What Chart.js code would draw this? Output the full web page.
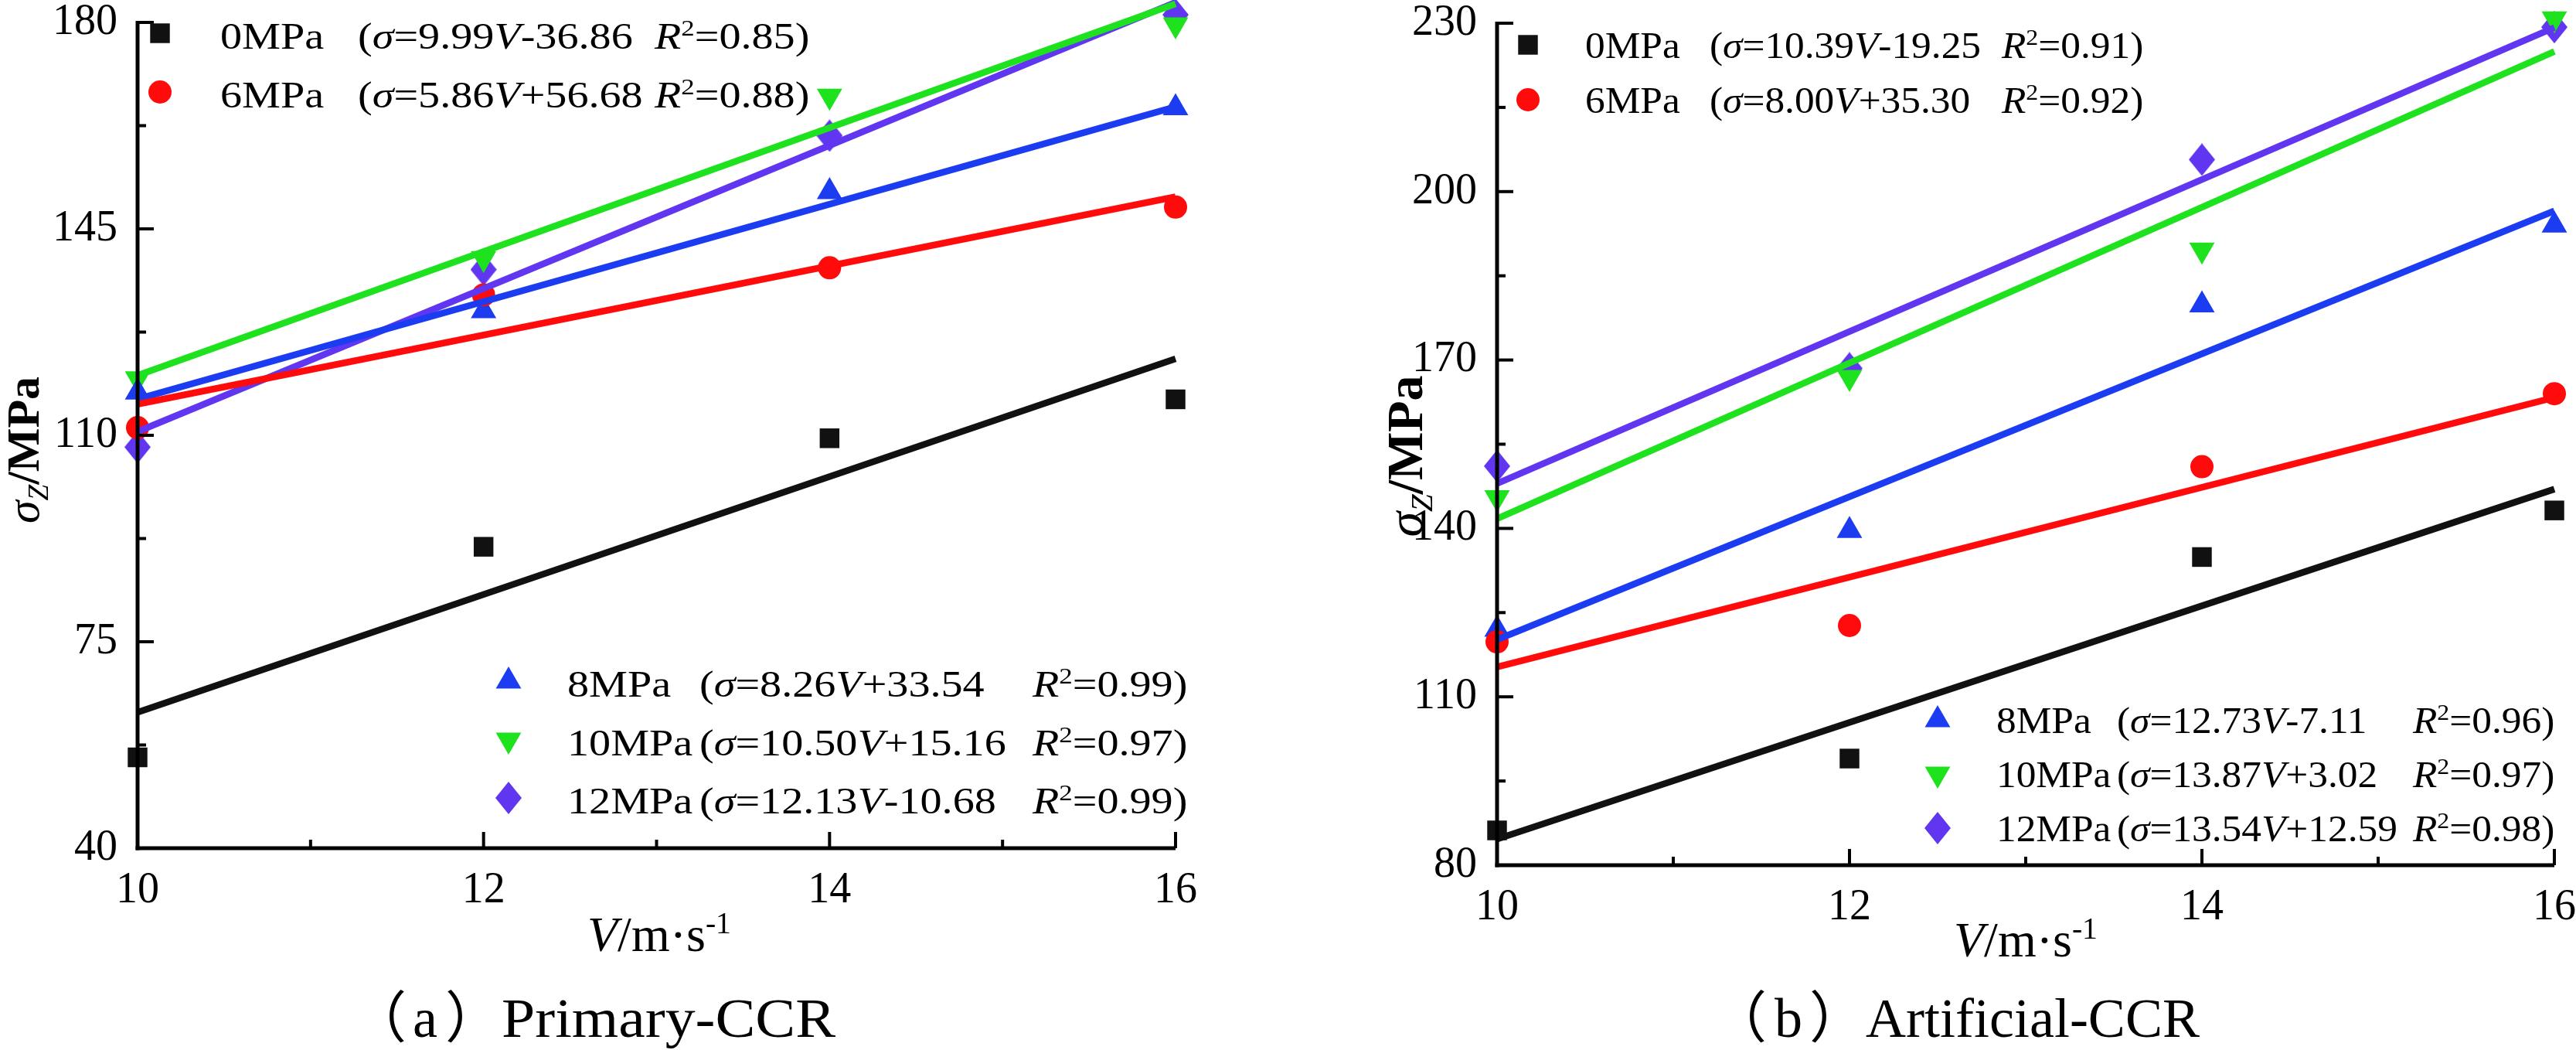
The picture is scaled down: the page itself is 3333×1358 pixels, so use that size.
<!DOCTYPE html>
<html>
<head>
<meta charset="utf-8">
<script src="https://cdn.jsdelivr.net/npm/chart.js@4.4.1/dist/chart.umd.min.js"></script>
<style>
  html, body { margin: 0; padding: 0; background: #fff; }
  body { width: 3333px; height: 1358px; position: relative; overflow: hidden; font-family: "Liberation Serif", serif; }
  .panel { position: absolute; top: 0; height: 1358px; }
</style>
</head>
<body>
<div class="panel" style="left:0;width:1700px"><canvas id="chartA" width="1700" height="1358"></canvas></div>
<div class="panel" style="left:1700px;width:1633px"><canvas id="chartB" width="1633" height="1358"></canvas></div>
<script>
// 資料
const speeds = [10, 12, 14, 16];
const pressures = ['0MPa', '6MPa', '8MPa', '10MPa', '12MPa'];
const xTicks = [10, 12, 14, 16];

// (a) Primary-CCR
const a0MPa = [55.4, 91.1, 109.5, 116.1];
const a6MPa = [111.3, 133.8, 138.4, 148.7];
const a8MPa = [117.3, 131.1, 151.3, 165.5];
const a10MPa = [119.6, 140.0, 167.5, 179.6];
const a12MPa = [108.0, 138.1, 160.8, 181.3];
const aSlope = [9.99, 5.86, 8.26, 10.50, 12.13];
const aIntercept = [-36.86, 56.68, 33.54, 15.16, -10.68];
const aR2 = [0.85, 0.88, 0.99, 0.97, 0.99];
// 擬合線在 V=10 與 V=16 的值
const aFitStart = [63.04, 115.28, 116.14, 120.16, 110.62];
const aFitEnd = [122.98, 150.44, 165.70, 183.16, 183.40];
const aYTicks = [40, 75, 110, 145, 180];

// (b) Artificial-CCR
const b0MPa = [86.2, 99.0, 134.9, 143.2];
const b6MPa = [119.8, 122.7, 151.0, 164.0];
const b8MPa = [122.0, 139.6, 179.8, 194.0];
const b10MPa = [145.5, 166.9, 189.6, 230.8];
const b12MPa = [151.1, 168.5, 205.7, 229.3];
const bSlope = [10.39, 8.00, 12.73, 13.87, 13.54];
const bIntercept = [-19.25, 35.30, -7.11, 3.02, 12.59];
const bR2 = [0.91, 0.92, 0.96, 0.97, 0.98];
const bFitStart = [84.65, 115.30, 120.19, 141.72, 147.99];
const bFitEnd = [146.99, 163.30, 196.57, 224.94, 229.23];
const bYTicks = [80, 110, 140, 170, 200, 230];

// 顏色與點樣式
const colors = ['#111111', '#ff0b0b', '#1c3cf2', '#1ee21e', '#6036f0'];

// 菱形點 (略高於寬)
function diamondImg(color, w, h) {
  const c = document.createElement('canvas');
  c.width = w; c.height = h;
  const g = c.getContext('2d');
  g.fillStyle = color;
  g.beginPath();
  g.moveTo(w / 2, 0); g.lineTo(w, h / 2); g.lineTo(w / 2, h); g.lineTo(0, h / 2);
  g.closePath(); g.fill();
  return c;
}
const marks = [
  { style: 'rect', r: 18, rot: 0 },
  { style: 'circle', r: 15, rot: 0 },
  { style: 'triangle', r: 19, rot: 0 },
  { style: 'triangle', r: 19, rot: 180 },
  { style: diamondImg(colors[4], 34, 42), r: 18, rot: 0 }
];
const FONT = '"Liberation Serif", "Times New Roman", "DejaVu Serif", serif';
const CJK = '"Noto Sans CJK SC", sans-serif';

function segFont(s, size) {
  const sz = (s.sup || s.sub) ? size * 0.62 : size;
  return (s.it ? 'italic ' : '') + (s.b ? 'bold ' : '') + sz + 'px ' + FONT;
}
function richWidth(ctx, segs, size) {
  let w = 0;
  segs.forEach(s => { ctx.font = segFont(s, size); w += ctx.measureText(s.t).width; });
  return w;
}
function drawRich(ctx, segs, x, y, size, stretch) {
  ctx.save();
  ctx.translate(x, y);
  ctx.scale(stretch || 1, 1);
  ctx.fillStyle = '#000';
  ctx.textAlign = 'left';
  ctx.textBaseline = 'alphabetic';
  let cx = 0;
  segs.forEach(s => {
    ctx.font = segFont(s, size);
    const dy = s.sup ? -size * 0.36 : (s.sub ? size * 0.2 : 0);
    ctx.fillText(s.t, cx, dy);
    cx += ctx.measureText(s.t).width;
  });
  ctx.restore();
}
function drawMarker(ctx, i, x, y) {
  ctx.save();
  ctx.fillStyle = colors[i];
  ctx.strokeStyle = colors[i];
  const m = marks[i];
  if (Chart.helpers && Chart.helpers.drawPoint) {
    Chart.helpers.drawPoint(ctx, { pointStyle: m.style, radius: m.r, rotation: m.rot, borderWidth: 0 }, x, y);
  } else {
    ctx.beginPath(); ctx.arc(x, y, m.r, 0, Math.PI * 2); ctx.fill();
  }
  ctx.restore();
}
// 子圖標題：全形括號用 CJK 字型
function drawCaption(ctx, c) {
  ctx.save();
  ctx.fillStyle = '#000';
  ctx.textAlign = 'left';
  ctx.textBaseline = 'alphabetic';
  const put = (t, font, left) => {
    ctx.font = font;
    const m = ctx.measureText(t);
    ctx.fillText(t, left + m.actualBoundingBoxLeft, c.y);
    return left + m.actualBoundingBoxLeft + m.actualBoundingBoxRight;
  };
  const cjk = c.size + 'px ' + CJK, rom = c.size + 'px ' + FONT;
  let x = put('（', cjk, c.x);
  x = put(c.tag, rom, x + 13);
  put('）', cjk, x + 14);
  ctx.translate(c.x + c.gap, 0);
  ctx.scale(c.stretch, 1);
  ctx.font = rom;
  ctx.fillText(c.t, 0, c.y);
  ctx.restore();
}

// 圖例、刻度、座標軸標題
const decor = {
  id: 'decor',
  afterDraw(chart) {
    const o = chart.options.plugins.decor;
    const ctx = chart.ctx, xs = chart.scales.x, ys = chart.scales.y, area = chart.chartArea;
    const seg = (x1, y1, x2, y2) => { ctx.beginPath(); ctx.moveTo(x1, y1); ctx.lineTo(x2, y2); ctx.stroke(); };
    ctx.save();
    ctx.strokeStyle = '#000';
    ctx.lineWidth = 4;
    xTicks.forEach((v, i) => {
      const p = xs.getPixelForValue(v);
      seg(p, area.bottom, p, area.bottom - 21);
      if (i < xTicks.length - 1) {
        const m = xs.getPixelForValue((v + xTicks[i + 1]) / 2);
        seg(m, area.bottom, m, area.bottom - 11);
      }
    });
    o.yTicks.forEach((v, i) => {
      const p = ys.getPixelForValue(v);
      seg(area.left, p, area.left + 21, p);
      if (i < o.yTicks.length - 1) {
        const m = ys.getPixelForValue((v + o.yTicks[i + 1]) / 2);
        seg(area.left, m, area.left + 11, m);
      }
    });
    ctx.lineWidth = 5;
    seg(area.left, area.top - 2, area.left, area.bottom + 2.5);
    seg(area.left - 2.5, area.bottom, area.right, area.bottom);
    ctx.restore();

    // 圖例
    o.legend.forEach(blk => {
      blk.rows.forEach((k, j) => {
        const y = blk.y[j];
        drawMarker(ctx, k, blk.mx, y - o.markerDy);
        drawRich(ctx, [{ t: pressures[k] }], blk.tx, y, o.legSize, o.stretch);
        const b = o.intercept[k];
        drawRich(ctx, [
          { t: '(' }, { t: 'σ', it: true }, { t: '=' + o.slope[k].toFixed(2) },
          { t: 'V', it: true }, { t: (b < 0 ? '-' : '+') + Math.abs(b).toFixed(2) }
        ], blk.px, y, o.legSize, o.stretch);
        drawRich(ctx, [
          { t: 'R', it: true }, { t: '2', sup: true }, { t: '=' + o.r2[k].toFixed(2) + ')' }
        ], blk.rx, y, o.legSize, o.stretch);
      });
    });

    // x 軸標題
    drawRich(ctx, [{ t: 'V', it: true }, { t: '/m·s' }, { t: '-1', sup: true }], o.xTitle.x, o.xTitle.y, o.xTitle.size);
    // y 軸標題
    const ySegs = [{ t: 'σ', it: true }, { t: 'Z', it: true, sub: true }, { t: '/MPa', b: true }];
    ctx.save();
    ctx.translate(o.yTitle.x, o.yTitle.y);
    ctx.rotate(-Math.PI / 2);
    drawRich(ctx, ySegs, -richWidth(ctx, ySegs, o.yTitle.size) / 2, 0, o.yTitle.size);
    ctx.restore();
    drawCaption(ctx, o.caption);
  }
};

function buildChart(id, p) {
  const datasets = [];
  p.fitStart.forEach((s, i) => {
    datasets.push({
      data: [{ x: speeds[0], y: s }, { x: speeds[speeds.length - 1], y: p.fitEnd[i] }],
      showLine: true, borderColor: colors[i], borderWidth: 8.5,
      pointRadius: 0, clip: false
    });
  });
  p.series.forEach((vals, i) => {
    datasets.push({
      data: speeds.map((v, j) => ({ x: v, y: vals[j] })),
      showLine: false, pointStyle: marks[i].style, pointRadius: marks[i].r,
      pointRotation: marks[i].rot, pointBackgroundColor: colors[i],
      pointBorderWidth: 0, clip: false
    });
  });
  const tickFont = { family: FONT, size: 56 };
  return new Chart(document.getElementById(id), {
    type: 'scatter',
    data: { datasets: datasets },
    options: {
      responsive: false,
      animation: false,
      devicePixelRatio: 1,
      layout: { padding: { left: 0, right: p.padRight, top: p.padTop, bottom: 0 } },
      plugins: {
        legend: { display: false },
        tooltip: { enabled: false },
        decor: p.decor
      },
      scales: {
        x: {
          type: 'linear', min: xTicks[0], max: xTicks[xTicks.length - 1],
          afterBuildTicks: s => { s.ticks = xTicks.map(v => ({ value: v })); },
          grid: { display: false, drawTicks: false },
          border: { display: false },
          ticks: { font: tickFont, color: '#000', padding: 22, maxRotation: 0, autoSkip: false },
          afterFit: s => { s.height = p.xBand; s.paddingLeft = 0; s.paddingRight = 0; }
        },
        y: {
          type: 'linear', min: p.yTicks[0], max: p.yTicks[p.yTicks.length - 1],
          afterBuildTicks: s => { s.ticks = p.yTicks.map(v => ({ value: v })); },
          grid: { display: false, drawTicks: false },
          border: { display: false },
          ticks: { font: tickFont, color: '#000', padding: 26, autoSkip: false },
          afterFit: s => { s.width = p.yBand; s.paddingTop = 0; s.paddingBottom = 0; }
        }
      }
    },
    plugins: [decor]
  });
}

buildChart('chartA', {
  series: [a0MPa, a6MPa, a8MPa, a10MPa, a12MPa],
  fitStart: aFitStart, fitEnd: aFitEnd, yTicks: aYTicks,
  yBand: 178, xBand: 261, padTop: 29, padRight: 179,
  decor: {
    yTicks: aYTicks, slope: aSlope, intercept: aIntercept, r2: aR2,
    legSize: 48, stretch: 1.17, markerDy: 20,
    legend: [
      { rows: [0, 1], mx: 207, tx: 285, px: 463, rx: 847, y: [63, 139] },
      { rows: [2, 3, 4], mx: 658, tx: 734, px: 905, rx: 1336, y: [901, 977, 1052] }
    ],
    xTitle: { x: 760, y: 1230, size: 64 },
    yTitle: { x: 50, y: 582, size: 60 },
    caption: { tag: 'a', t: 'Primary-CCR', x: 504, gap: 145, stretch: 1.08, y: 1341, size: 72 }
  }
});

buildChart('chartB', {
  series: [b0MPa, b6MPa, b8MPa, b10MPa, b12MPa],
  fitStart: bFitStart, fitEnd: bFitEnd, yTicks: bYTicks,
  yBand: 237, xBand: 239, padTop: 30, padRight: 28,
  decor: {
    yTicks: bYTicks, slope: bSlope, intercept: bIntercept, r2: bR2,
    legSize: 48, stretch: 1.07, markerDy: 17,
    legend: [
      { rows: [0, 1], mx: 277, tx: 351, px: 512, rx: 890, y: [75, 146] },
      { rows: [2, 3, 4], mx: 807, tx: 883, px: 1039, rx: 1422, y: [948, 1018, 1088] }
    ],
    xTitle: { x: 828, y: 1237, size: 64 },
    yTitle: { x: 140, y: 590, size: 66 },
    caption: { tag: 'b', t: 'Artificial-CCR', x: 564, gap: 150, stretch: 1.0, y: 1341, size: 72 }
  }
});
</script>
</body>
</html>
